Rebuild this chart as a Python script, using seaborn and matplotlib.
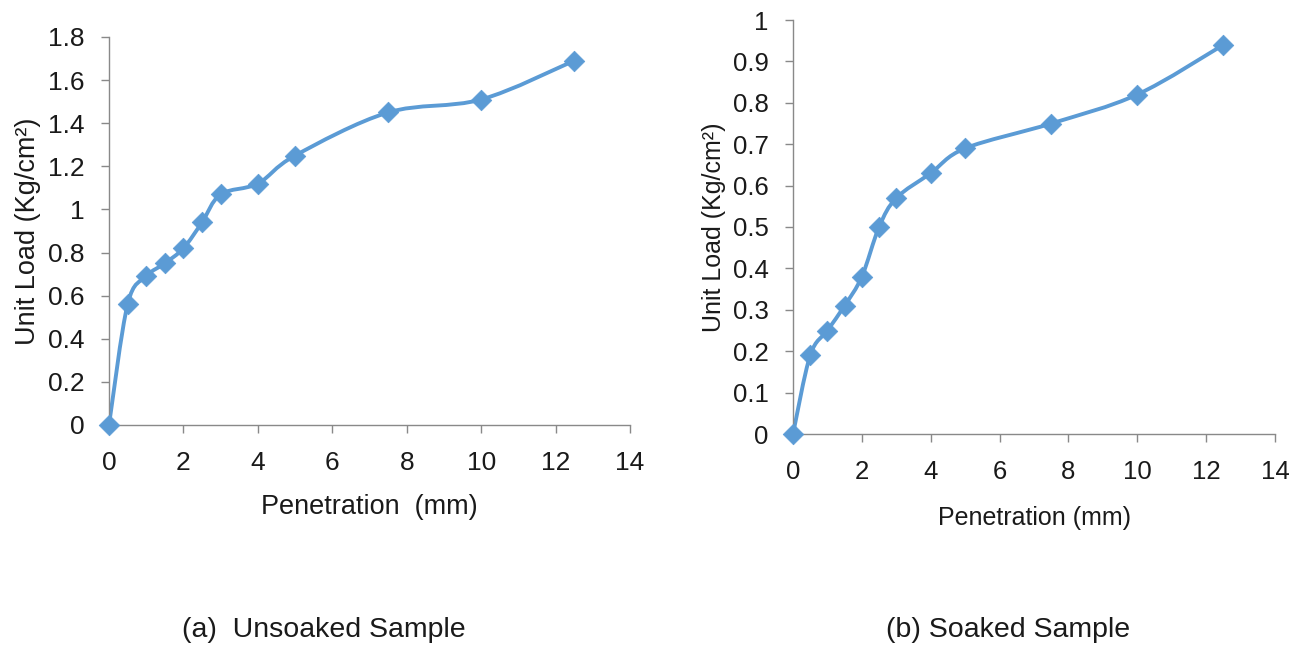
import numpy as np
import pandas as pd
import matplotlib
matplotlib.use("Agg")
import matplotlib.pyplot as plt
from matplotlib.path import Path
from matplotlib.patches import PathPatch
from matplotlib.ticker import FuncFormatter, MultipleLocator
import seaborn as sns

# ---- data ----
penetration = [0, 0.5, 1, 1.5, 2, 2.5, 3, 4, 5, 7.5, 10, 12.5]
unsoaked_load = [0, 0.56, 0.69, 0.75, 0.82, 0.94, 1.07, 1.12, 1.25, 1.45, 1.51, 1.69]
soaked_load = [0, 0.19, 0.25, 0.31, 0.38, 0.50, 0.57, 0.63, 0.69, 0.75, 0.82, 0.94]
x_ticks = [0, 2, 4, 6, 8, 10, 12, 14]
captions = ["(a)  Unsoaked Sample", "(b) Soaked Sample"]
xlabels = ["Penetration  (mm)", "Penetration (mm)"]
ylabel = "Unit Load (Kg/cm²)"

LINE = "#5B9BD5"
SPINE = "#898989"
TXT = "#1a1a1a"

sns.set_theme(style="white")
plt.rcParams["font.family"] = ["Liberation Sans", "DejaVu Sans"]

fig = plt.figure(figsize=(13.1, 6.46), dpi=100)
W, H = 1310, 646


def ax_at(x0, x1, ytop, ybot):
    return fig.add_axes([x0 / W, (H - ybot) / H, (x1 - x0) / W, (ybot - ytop) / H])


def smooth_path(xs, ys):
    pts = np.column_stack([xs, ys]).astype(float)
    n = len(pts)
    verts = [pts[0]]
    codes = [Path.MOVETO]
    for i in range(n - 1):
        p0 = pts[i - 1] if i > 0 else pts[i]
        p1 = pts[i]
        p2 = pts[i + 1]
        p3 = pts[i + 2] if i + 2 < n else pts[i + 1]
        c1 = p1 + (p2 - p0) / 6.0
        c2 = p2 - (p3 - p1) / 6.0
        verts += [c1, c2, p2]
        codes += [Path.CURVE4] * 3
    return Path(verts, codes)


def panel(ax, xs, ys, ymax, ystep, fs_tick, fs_label, xlabel, xlabelpad, ylabelpad):
    ax.add_patch(PathPatch(smooth_path(xs, ys), fill=False, edgecolor=LINE,
                           lw=2.8, capstyle="round", joinstyle="round", zorder=2))
    df = pd.DataFrame({"x": xs, "y": ys})
    sns.scatterplot(data=df, x="x", y="y", marker="D", s=110, color=LINE,
                    edgecolor=LINE, linewidth=0.5, ax=ax, zorder=3, clip_on=False)
    ax.set_xlim(0, 14)
    ax.set_ylim(0, ymax)
    ax.set_xticks(x_ticks)
    ax.yaxis.set_major_locator(MultipleLocator(ystep))
    fmt = FuncFormatter(lambda v, p: f"{round(v, 2):g}")
    ax.yaxis.set_major_formatter(fmt)
    ax.xaxis.set_major_formatter(fmt)
    for s in ["top", "right"]:
        ax.spines[s].set_visible(False)
    for s in ["left", "bottom"]:
        ax.spines[s].set_color(SPINE)
        ax.spines[s].set_linewidth(1.0)
    ax.tick_params(axis="both", direction="out", length=5.5, width=1.0,
                   color=SPINE, labelsize=fs_tick, labelcolor=TXT,
                   left=True, bottom=True)
    ax.tick_params(axis="y", pad=12)
    ax.tick_params(axis="x", pad=13)
    ax.set_xlabel(xlabel, fontsize=fs_label, color=TXT, labelpad=xlabelpad)
    ax.set_ylabel(ylabel, fontsize=fs_label, color=TXT, labelpad=ylabelpad)
    ax.grid(False)


ax1 = ax_at(109, 630, 37, 425)
panel(ax1, penetration, unsoaked_load, 1.8, 0.2, 19, 19.5, xlabels[0], 14, 5)
ax2 = ax_at(793, 1275, 20, 434)
panel(ax2, penetration, soaked_load, 1.0, 0.1, 18.5, 18, xlabels[1], 16, 5)

fig.text(324 / W, 1 - 630 / H, captions[0], ha="center", va="center",
         fontsize=20.5, color=TXT)
fig.text(1008 / W, 1 - 630 / H, captions[1], ha="center", va="center",
         fontsize=20.5, color=TXT)

fig.savefig("out.png", dpi=100, facecolor="white")
